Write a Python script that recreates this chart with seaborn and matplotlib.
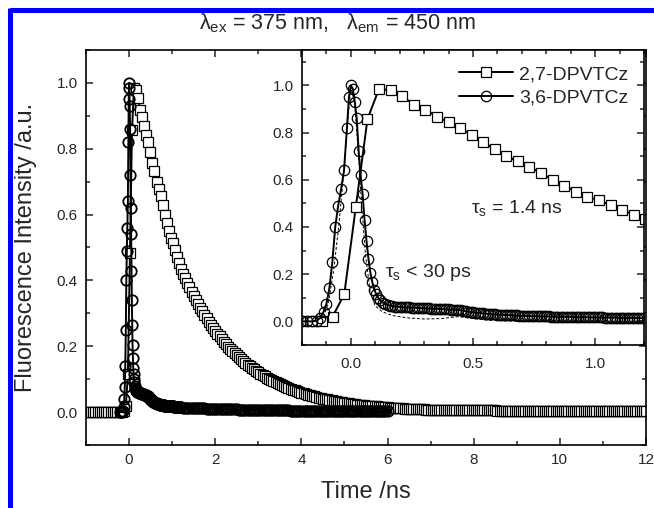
import numpy as np
import pandas as pd
import seaborn as sns
import matplotlib.pyplot as plt
from matplotlib.lines import Line2D
from matplotlib.ticker import MultipleLocator

sns.set_style('ticks')
plt.rcParams['font.family'] = ['Liberation Sans', 'DejaVu Sans']
plt.rcParams['mathtext.default'] = 'regular'

# 2,7-DPVTCz (squares): rise and early decay
t_sq_fine = [-0.98, -0.93, -0.88, -0.83, -0.78, -0.73, -0.68, -0.63, -0.58, -0.53,
             -0.48, -0.43, -0.38, -0.33, -0.28, -0.21, -0.16, -0.12, -0.075, -0.027,
             0.02, 0.068, 0.115, 0.163, 0.21, 0.258, 0.305, 0.352, 0.40, 0.447,
             0.494, 0.542, 0.589, 0.637, 0.684, 0.731, 0.779, 0.826, 0.873, 0.921,
             0.968, 1.016, 1.063, 1.11, 1.158, 1.205]
y_sq_fine = [0.0, 0.0, 0.0, 0.0, 0.0, 0.0, 0.0, 0.0, 0.0, 0.0,
             0.0, 0.0, 0.0, 0.0, 0.0, 0.0, 0.0, 0.002, 0.02, 0.115,
             0.483, 0.857, 0.985, 0.979, 0.955, 0.918, 0.897, 0.868, 0.843, 0.82,
             0.79, 0.758, 0.731, 0.70, 0.678, 0.655, 0.628, 0.60, 0.575, 0.55,
             0.528, 0.513, 0.492, 0.472, 0.452, 0.435]
# tail (1.25 ... 12.00 ns every 0.05 ns)
t_sq_tail = np.round(np.arange(1.25, 12.001, 0.05), 2)
y_sq_tail = [0.421, 0.407, 0.392, 0.379, 0.365, 0.352, 0.340, 0.328, 0.317, 0.306,
             0.295, 0.285, 0.275, 0.265, 0.256, 0.247, 0.238, 0.230, 0.222, 0.214,
             0.206, 0.199, 0.192, 0.185, 0.179, 0.173, 0.167, 0.161, 0.155, 0.150,
             0.144, 0.139, 0.134, 0.130, 0.125, 0.121, 0.117, 0.112, 0.109, 0.105,
             0.101, 0.098, 0.094, 0.091, 0.088, 0.085, 0.082, 0.079, 0.076, 0.073,
             0.071, 0.068, 0.066, 0.064, 0.061, 0.059, 0.057, 0.055, 0.053, 0.051,
             0.050, 0.048, 0.046, 0.044, 0.043, 0.041, 0.040, 0.039, 0.037, 0.036,
             0.035, 0.033, 0.032, 0.031, 0.030, 0.029, 0.028, 0.027, 0.026, 0.025,
             0.024, 0.023, 0.023, 0.022, 0.021, 0.020, 0.020, 0.019, 0.018, 0.018,
             0.017, 0.016, 0.016, 0.015, 0.015, 0.014,
             0.0137, 0.0132, 0.0128, 0.0123, 0.0119, 0.0115, 0.0111, 0.0107, 0.0104, 0.0100,
             0.0097, 0.0094, 0.0091, 0.0088, 0.0085, 0.0082, 0.0079, 0.0077, 0.0074, 0.0072,
             0.0070, 0.0068, 0.0066, 0.0064, 0.0062, 0.0060, 0.0058, 0.0057, 0.0055, 0.0054,
             0.005, 0.005, 0.005, 0.005, 0.005, 0.005, 0.005, 0.005, 0.005, 0.005,
             0.005, 0.005, 0.005, 0.005, 0.005, 0.005, 0.005, 0.005, 0.005, 0.005,
             0.004, 0.004, 0.004, 0.004, 0.004, 0.004, 0.004, 0.004, 0.004, 0.004,
             0.004, 0.004, 0.004, 0.004, 0.004, 0.004, 0.004, 0.004, 0.004, 0.004,
             0.004, 0.004, 0.004, 0.004, 0.004, 0.004, 0.004, 0.004, 0.004, 0.004,
             0.004, 0.004, 0.004, 0.004, 0.004, 0.004, 0.004, 0.004, 0.004, 0.004,
             0.004, 0.004, 0.004, 0.004, 0.004, 0.004, 0.004, 0.004, 0.004, 0.004,
             0.004, 0.004, 0.004, 0.004, 0.004, 0.004, 0.004, 0.004, 0.004, 0.004,
             0.004, 0.004, 0.004, 0.004, 0.004, 0.004, 0.004, 0.004, 0.004, 0.004]

# 3,6-DPVTCz (circles)
t_ci_fine = [-0.20, -0.18, -0.16, -0.14, -0.125, -0.112, -0.100, -0.088, -0.076, -0.064,
             -0.052, -0.040, -0.028, -0.016, -0.008, 0.000, 0.008, 0.016, 0.024, 0.032,
             0.040, 0.048, 0.056, 0.064, 0.072, 0.080, 0.088, 0.096, 0.104, 0.112,
             0.120, 0.130, 0.140, 0.150, 0.160, 0.170, 0.180, 0.190, 0.200]
y_ci_fine = [0.0, 0.0, 0.0, 0.003, 0.015, 0.04, 0.075, 0.14, 0.25, 0.40,
             0.49, 0.56, 0.64, 0.82, 0.95, 1.0, 0.985, 0.93, 0.86, 0.72,
             0.62, 0.54, 0.43, 0.34, 0.265, 0.205, 0.165, 0.135, 0.115, 0.10,
             0.09, 0.08, 0.074, 0.07, 0.067, 0.065, 0.063, 0.062, 0.061]
t_ci_mid = np.round(np.arange(0.21, 1.2001, 0.01), 3)
y_ci_mid = [0.060, 0.060, 0.059, 0.059, 0.058, 0.058, 0.057, 0.057, 0.056, 0.056,
            0.055, 0.055, 0.054, 0.054, 0.053, 0.053, 0.052, 0.052, 0.051, 0.051,
            0.050, 0.050, 0.049, 0.048, 0.047, 0.045, 0.043, 0.041, 0.040, 0.039,
            0.037, 0.036, 0.035, 0.034, 0.033, 0.032, 0.031, 0.030, 0.030, 0.029,
            0.028, 0.028, 0.027, 0.027, 0.026, 0.026, 0.025, 0.025, 0.024, 0.024,
            0.023, 0.023, 0.023, 0.022, 0.022, 0.022, 0.022, 0.021, 0.021, 0.021,
            0.021, 0.020, 0.020, 0.020, 0.020, 0.020, 0.019, 0.019, 0.019, 0.019,
            0.019, 0.018, 0.018, 0.018, 0.018, 0.018, 0.018, 0.017, 0.017, 0.017,
            0.017, 0.017, 0.017, 0.016, 0.016, 0.016, 0.016, 0.016, 0.016, 0.015,
            0.015, 0.015, 0.015, 0.015, 0.015, 0.014, 0.014, 0.014, 0.014, 0.014]
t_ci_tail = np.round(np.arange(1.25, 6.001, 0.05), 2)
y_ci_tail = [0.013, 0.013, 0.013, 0.012, 0.012, 0.012, 0.012, 0.011, 0.011, 0.011,
             0.011, 0.010, 0.010, 0.010, 0.010, 0.009, 0.009, 0.009, 0.009, 0.009,
             0.008, 0.008, 0.008, 0.008, 0.008, 0.008, 0.007, 0.007, 0.007, 0.007,
             0.007, 0.007, 0.006, 0.006, 0.006, 0.006, 0.006, 0.006, 0.005, 0.005,
             0.005, 0.005, 0.005, 0.005, 0.005, 0.005, 0.005, 0.005, 0.005, 0.005,
             0.004, 0.004, 0.004, 0.004, 0.004, 0.004, 0.004, 0.004, 0.004, 0.004,
             0.004, 0.004, 0.004, 0.003, 0.003, 0.003, 0.003, 0.003, 0.003, 0.003,
             0.003, 0.003, 0.003, 0.003, 0.003, 0.003, 0.003, 0.003, 0.003, 0.003,
             0.002, 0.002, 0.002, 0.002, 0.002, 0.002, 0.002, 0.002, 0.002, 0.002,
             0.002, 0.002, 0.002, 0.002, 0.002, 0.002]

# instrument response (dashed, inset)
t_irf = [-0.2, -0.13, -0.11, -0.09, -0.07, -0.05, -0.03, -0.015, 0.0, 0.015,
         0.03, 0.045, 0.06, 0.08, 0.10, 0.13, 0.17, 0.23, 0.30, 0.37,
         0.44, 0.50, 0.57, 0.70, 0.90, 1.20]
y_irf = [-0.005, -0.003, 0.02, 0.09, 0.22, 0.40, 0.62, 0.82, 0.99, 0.93,
         0.72, 0.48, 0.28, 0.12, 0.065, 0.04, 0.025, 0.015, 0.01, 0.012,
         0.02, 0.012, 0.004, 0.0, -0.002, -0.003]

sq = pd.DataFrame({'t': np.concatenate([t_sq_fine, t_sq_tail]),
                   'I': np.concatenate([y_sq_fine, y_sq_tail])})
ci = pd.DataFrame({'t': np.concatenate([t_ci_fine, t_ci_mid, t_ci_tail]),
                   'I': np.concatenate([y_ci_fine, y_ci_mid, y_ci_tail])})
irf = pd.DataFrame({'t': t_irf, 'I': y_irf})

fig = plt.figure(figsize=(6.54, 5.08), dpi=100)
ax = fig.add_axes([0.1315, 0.124, 0.8563, 0.7776])
ins = fig.add_axes([0.4618, 0.3209, 0.5229, 0.5807])

sq_style = dict(color='black', lw=1.4, marker='s', markersize=7,
                markerfacecolor='white', markeredgecolor='black', markeredgewidth=0.9)
ci_style = dict(color='black', lw=1.4, marker='o', markersize=7.5,
                markerfacecolor='none', markeredgecolor='black', markeredgewidth=0.9)
ci_main = dict(ci_style, markeredgewidth=1.3)

sns.lineplot(data=sq, x='t', y='I', ax=ax, sort=False, **sq_style)
sns.lineplot(data=ci, x='t', y='I', ax=ax, sort=False, **ci_main)

sns.lineplot(data=irf, x='t', y='I', ax=ins, sort=False, color='black', lw=0.7,
             linestyle=(0, (3, 2)))
sns.lineplot(data=sq[sq['t'] < 1.3], x='t', y='I', ax=ins, sort=False,
             label='2,7-DPVTCz', **sq_style)
sns.lineplot(data=ci[ci['t'] < 1.3], x='t', y='I', ax=ins, sort=False,
             label='3,6-DPVTCz', **ci_style)

# main axes
ax.set_xlim(-1, 12)
ax.set_ylim(-0.1, 1.1)
ax.xaxis.set_major_locator(MultipleLocator(2))
ax.xaxis.set_minor_locator(MultipleLocator(1))
ax.yaxis.set_major_locator(MultipleLocator(0.2))
ax.yaxis.set_minor_locator(MultipleLocator(0.1))
ax.set_xlabel('Time /ns', fontsize=17, labelpad=10)
ax.set_ylabel('Fluorescence Intensity /a.u.', fontsize=17, labelpad=14)

# inset
ins.set_xlim(-0.2, 1.2)
ins.set_ylim(-0.1, 1.15)
ins.xaxis.set_major_locator(MultipleLocator(0.5))
ins.xaxis.set_minor_locator(MultipleLocator(0.1))
ins.yaxis.set_major_locator(MultipleLocator(0.2))
ins.yaxis.set_minor_locator(MultipleLocator(0.1))
ins.set_xlabel('')
ins.set_ylabel('')
ins.set_facecolor('white')

for a in (ax, ins):
    a.xaxis.set_major_formatter(plt.FormatStrFormatter('%g' if a is ax else '%.1f'))
    a.yaxis.set_major_formatter(plt.FormatStrFormatter('%.1f'))
    a.tick_params(which='both', direction='in', top=True, right=True,
                  width=1.1, labelsize=11, pad=6)
    a.tick_params(which='major', length=5)
    a.tick_params(which='minor', length=3)
    for s in a.spines.values():
        s.set_linewidth(1.2)
        s.set_color('black')
ins.tick_params(axis='x', pad=9)

ins.legend(loc='upper right', frameon=False, fontsize=14, handlelength=2.8,
           handletextpad=0.3, labelspacing=0.3, borderaxespad=0.4)

ins.text(0.49, 0.46, r'$\tau_s$ = 1.4 ns', fontsize=14)
ins.text(0.14, 0.19, r'$\tau_s$ < 30 ps', fontsize=14)

fig.text(0.516, 0.955, r'$\lambda_{ex}$ = 375 nm,   $\lambda_{em}$ = 450 nm',
         fontsize=15.5, ha='center', va='center')

# blue frame on the top and left edges
fig.add_artist(Line2D([0.0148, 1.0], [0.980, 0.980], color='#0000ff', lw=3.6,
                      transform=fig.transFigure, solid_capstyle='butt'))
fig.add_artist(Line2D([0.0148, 0.0148], [0.0, 0.985], color='#0000ff', lw=3.6,
                      transform=fig.transFigure, solid_capstyle='butt'))

fig.savefig('out.png', dpi=100)
